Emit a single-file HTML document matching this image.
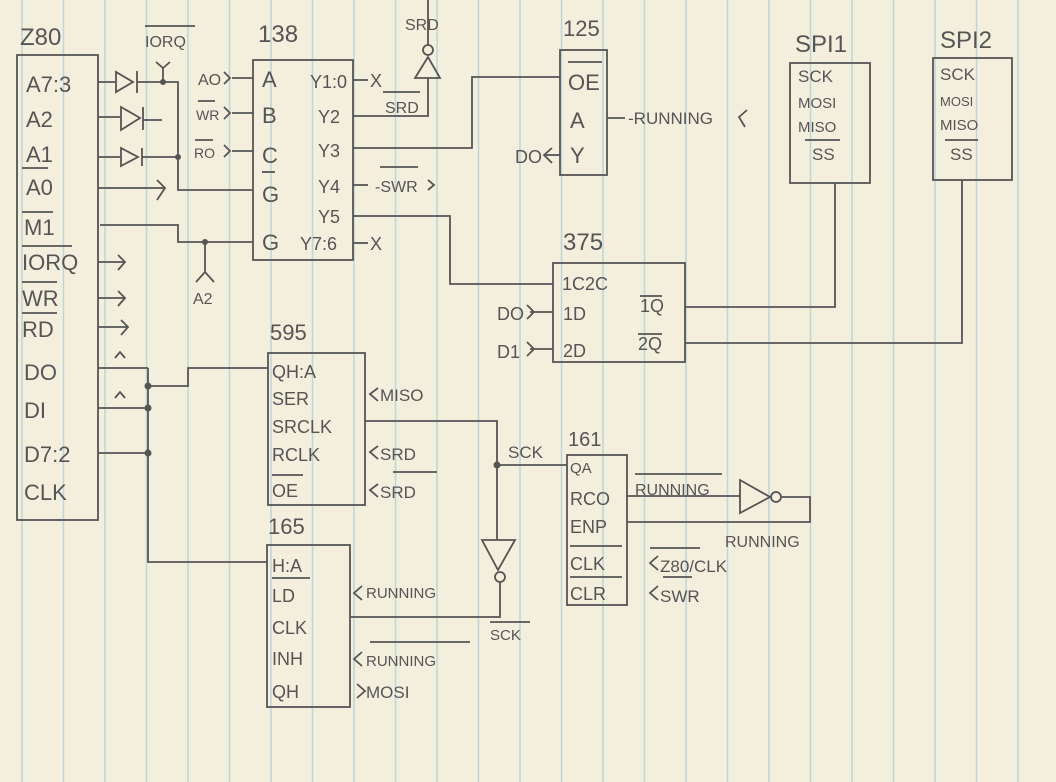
<!DOCTYPE html>
<html><head><meta charset="utf-8"><style>
html,body{margin:0;padding:0;background:#f4eedc}
svg{display:block}
text{font-family:"Liberation Sans",sans-serif;fill:#555}
</style></head><body>
<svg width="1056" height="782" viewBox="0 0 1056 782" xmlns="http://www.w3.org/2000/svg">
<rect width="1056" height="782" fill="#f4eedc"/>
<g stroke="#bcd6da" stroke-width="1.5">
<line x1="22" y1="0" x2="22" y2="782"/><line x1="63.5" y1="0" x2="63.5" y2="782"/><line x1="105" y1="0" x2="105" y2="782"/><line x1="146.5" y1="0" x2="146.5" y2="782"/><line x1="188" y1="0" x2="188" y2="782"/><line x1="229.5" y1="0" x2="229.5" y2="782"/><line x1="271" y1="0" x2="271" y2="782"/><line x1="312.5" y1="0" x2="312.5" y2="782"/><line x1="354" y1="0" x2="354" y2="782"/><line x1="395.5" y1="0" x2="395.5" y2="782"/><line x1="437" y1="0" x2="437" y2="782"/><line x1="478.5" y1="0" x2="478.5" y2="782"/><line x1="520" y1="0" x2="520" y2="782"/><line x1="561.5" y1="0" x2="561.5" y2="782"/><line x1="603" y1="0" x2="603" y2="782"/><line x1="644.5" y1="0" x2="644.5" y2="782"/><line x1="686" y1="0" x2="686" y2="782"/><line x1="727.5" y1="0" x2="727.5" y2="782"/><line x1="769" y1="0" x2="769" y2="782"/><line x1="810.5" y1="0" x2="810.5" y2="782"/><line x1="852" y1="0" x2="852" y2="782"/><line x1="893.5" y1="0" x2="893.5" y2="782"/><line x1="935" y1="0" x2="935" y2="782"/><line x1="976.5" y1="0" x2="976.5" y2="782"/><line x1="1018" y1="0" x2="1018" y2="782"/>
</g>
<g fill="none" stroke="#555" stroke-width="1.8">
<rect x="17" y="55" width="81" height="465"/>
<rect x="253" y="60" width="100" height="200"/>
<rect x="560" y="50" width="47" height="125"/>
<rect x="790" y="63" width="80" height="120"/>
<rect x="933" y="58" width="79" height="122"/>
<rect x="553" y="263" width="132" height="99"/>
<rect x="268" y="353" width="97" height="152"/>
<rect x="267" y="545" width="83" height="162"/>
<rect x="567" y="455" width="60" height="150"/>
<polyline points="98,82 115,82"/><polygon points="116,72 116,92 133,82"/><line x1="137" y1="71" x2="137" y2="93"/><polyline points="137,82 178,82 178,190 253,190"/>
<polyline points="98,117 120,117"/><polygon points="121,107 121,130 140,118"/><line x1="143" y1="107" x2="143" y2="130"/><polyline points="143,120 162,120 M157,113 162,120 157,127"/>
<polyline points="98,157 120,157"/><polygon points="121,148 121,166 138,157"/><line x1="142" y1="148" x2="142" y2="166"/><line x1="142" y1="157" x2="178" y2="157"/>
<polyline points="163,68 163,82"/><polyline points="156,62 163,68 170,62"/>
<polyline points="98,188 165,188"/><polyline points="157,180 165,188 157,200"/>
<polyline points="100,225 178,225 178,242 253,242"/>
<polyline points="205,242 205,272"/><polyline points="196,282 205,272 214,282"/>
<line x1="98" y1="262" x2="125" y2="262"/><polyline points="118,255 125,262 118,270"/>
<line x1="98" y1="298" x2="125" y2="298"/><polyline points="118,291 125,298 118,306"/>
<line x1="98" y1="327" x2="128" y2="327"/><polyline points="121,320 128,327 121,335"/>
<line x1="98" y1="368" x2="148" y2="368"/><polyline points="115,358 120,352 125,358 M120,352 120,368"/>
<line x1="98" y1="408" x2="148" y2="408"/><polyline points="115,398 120,392 125,398 M120,392 120,408"/>
<line x1="98" y1="453" x2="148" y2="453"/>
<polyline points="148,368 148,562 267,562"/>
<polyline points="148,386 188,386 188,368 268,368"/>
<line x1="232" y1="78" x2="253" y2="78"/><path d="M224,72 l6,6 -6,6"/>
<line x1="232" y1="113" x2="253" y2="113"/><path d="M224,107 l6,6 -6,6"/>
<line x1="232" y1="151" x2="253" y2="151"/><path d="M224,145 l6,6 -6,6"/>
<line x1="353" y1="80" x2="368" y2="80"/><line x1="353" y1="243" x2="368" y2="243"/>
<polyline points="353,116 428,116 428,78"/>
<polygon points="415,78 440,78 428,57"/><circle cx="428" cy="50" r="5"/><line x1="428" y1="45" x2="428" y2="0"/>
<line x1="383" y1="92" x2="420" y2="92"/>
<polyline points="353,148 472,148 472,77 560,77"/>
<line x1="353" y1="185" x2="368" y2="185"/><path d="M428,180 l6,5 -6,5"/>
<line x1="380" y1="167" x2="418" y2="167"/>
<polyline points="353,216 450,216 450,284 553,284"/>
<line x1="568" y1="62" x2="602" y2="62"/>
<line x1="607" y1="118" x2="625" y2="118"/><path d="M747,110 l-8,7 6,10"/>
<line x1="544" y1="155" x2="560" y2="155"/><path d="M552,148 l-8,7 8,8"/>
<line x1="530" y1="312" x2="553" y2="312"/><path d="M527,305 l7,7 -7,7"/>
<line x1="530" y1="349" x2="553" y2="349"/><path d="M527,342 l7,7 -7,7"/>
<polyline points="685,307 835,307 835,183"/>
<polyline points="685,343 962,343 962,180"/>
<path d="M378,388 l-8,6 8,7"/><path d="M378,446 l-8,6 8,7"/><path d="M378,484 l-8,6 8,7"/>
<polyline points="365,421 497,421 497,540"/>
<polygon points="482,540 515,540 498,570"/><circle cx="500" cy="577" r="5"/>
<polyline points="500,582 500,617 350,617"/>
<polyline points="497,465 567,465"/>
<path d="M362,586 l-8,7 8,7"/><path d="M362,652 l-8,7 8,7"/><path d="M357,684 l8,7 -8,7"/>
<line x1="627" y1="496" x2="740" y2="496"/>
<polygon points="740,480 740,513 770,497"/><circle cx="776" cy="497" r="5"/>
<polyline points="781,497 810,497 810,522 627,522"/>
<path d="M658,556 l-8,7 8,7"/><path d="M658,586 l-8,7 8,7"/>
<line x1="22" y1="212" x2="53" y2="212"/><line x1="22" y1="246" x2="72" y2="246"/>
<line x1="22" y1="282" x2="57" y2="282"/><line x1="22" y1="313" x2="57" y2="313"/>
<line x1="22" y1="168" x2="48" y2="168"/>
<line x1="145" y1="26" x2="195" y2="26"/>
<line x1="198" y1="101" x2="215" y2="101"/><line x1="195" y1="140" x2="213" y2="140"/>
<line x1="262" y1="172" x2="275" y2="172"/>
<line x1="640" y1="296" x2="662" y2="296"/><line x1="638" y1="334" x2="662" y2="334"/>
<line x1="805" y1="140" x2="840" y2="140"/><line x1="945" y1="140" x2="978" y2="140"/>
<line x1="272" y1="475" x2="303" y2="475"/><line x1="393" y1="472" x2="437" y2="472"/>
<line x1="272" y1="578" x2="310" y2="578"/><line x1="370" y1="642" x2="470" y2="642"/>
<line x1="490" y1="622" x2="530" y2="622"/>
<line x1="635" y1="474" x2="722" y2="474"/>
<line x1="570" y1="546" x2="622" y2="546"/><line x1="570" y1="577" x2="622" y2="577"/>
<line x1="663" y1="577" x2="692" y2="577"/><line x1="650" y1="548" x2="700" y2="548"/>
</g>
<g fill="#555">
<circle cx="178" cy="157" r="3"/><circle cx="163" cy="82" r="3"/><circle cx="205" cy="242" r="3"/>
<circle cx="148" cy="386" r="3.5"/><circle cx="148" cy="408" r="3.5"/><circle cx="148" cy="453" r="3.5"/>
<circle cx="497" cy="465" r="3.5"/>
</g>
<g font-size="24">
<text x="20" y="45">Z80</text>
<text x="258" y="42">138</text>
<text x="563" y="36" font-size="22">125</text>
<text x="795" y="52">SPI1</text>
<text x="940" y="48">SPI2</text>
<text x="563" y="250">375</text>
<text x="270" y="340" font-size="22">595</text>
<text x="268" y="534" font-size="22">165</text>
<text x="568" y="446" font-size="20">161</text>
</g>
<g font-size="22">
<text x="26" y="92">A7:3</text><text x="26" y="127">A2</text><text x="26" y="162">A1</text><text x="26" y="195">A0</text>
<text x="24" y="235">M1</text><text x="22" y="270">IORQ</text><text x="22" y="306">WR</text><text x="22" y="337">RD</text>
<text x="24" y="380">DO</text><text x="24" y="418">DI</text><text x="24" y="462">D7:2</text><text x="24" y="500">CLK</text>
<text x="262" y="87">A</text><text x="262" y="123">B</text><text x="262" y="163">C</text><text x="262" y="202">G</text><text x="262" y="250">G</text>
<text x="568" y="90">OE</text><text x="570" y="128">A</text><text x="570" y="163">Y</text>
</g>
<g font-size="18">
<text x="310" y="88">Y1:0</text><text x="318" y="123">Y2</text><text x="318" y="157">Y3</text><text x="318" y="193">Y4</text><text x="318" y="223">Y5</text><text x="300" y="250">Y7:6</text>
<text x="370" y="87">X</text><text x="370" y="250">X</text>
<text x="145" y="47" font-size="16">IORQ</text>
<text x="198" y="85" font-size="16">AO</text><text x="196" y="120" font-size="14">WR</text><text x="194" y="158" font-size="14">RO</text>
<text x="193" y="304" font-size="16">A2</text>
<text x="405" y="30" font-size="16">SRD</text>
<text x="385" y="113" font-size="16">SRD</text>
<text x="375" y="192" font-size="16">-SWR</text>
<text x="628" y="124" font-size="17">-RUNNING</text>
<text x="515" y="163" font-size="18">DO</text>
<text x="562" y="290">1C2C</text><text x="563" y="320">1D</text><text x="563" y="357">2D</text>
<text x="640" y="312">1Q</text><text x="638" y="350">2Q</text>
<text x="497" y="320">DO</text><text x="497" y="358">D1</text>
<text x="798" y="82" font-size="17">SCK</text><text x="798" y="108" font-size="15">MOSI</text><text x="798" y="132" font-size="15">MISO</text><text x="812" y="160" font-size="17">SS</text>
<text x="940" y="80" font-size="17">SCK</text><text x="940" y="106" font-size="13">MOSI</text><text x="940" y="130" font-size="15">MISO</text><text x="950" y="160" font-size="17">SS</text>
<text x="272" y="378">QH:A</text><text x="272" y="405">SER</text><text x="272" y="433">SRCLK</text><text x="272" y="461">RCLK</text><text x="272" y="497">OE</text>
<text x="380" y="401" font-size="17">MISO</text><text x="380" y="460" font-size="17">SRD</text><text x="380" y="498" font-size="17">SRD</text>
<text x="508" y="458" font-size="17">SCK</text><text x="490" y="640" font-size="15">SCK</text>
<text x="272" y="572">H:A</text><text x="272" y="602">LD</text><text x="272" y="634">CLK</text><text x="272" y="665">INH</text><text x="272" y="698">QH</text>
<text x="366" y="598" font-size="15">RUNNING</text><text x="366" y="666" font-size="15">RUNNING</text><text x="366" y="698" font-size="17">MOSI</text>
<text x="570" y="473" font-size="15">QA</text><text x="570" y="505">RCO</text><text x="570" y="533">ENP</text><text x="570" y="570">CLK</text><text x="570" y="600">CLR</text>
<text x="635" y="495" font-size="16">RUNNING</text><text x="725" y="547" font-size="16">RUNNING</text>
<text x="660" y="572" font-size="17">Z80/CLK</text><text x="660" y="602" font-size="17">SWR</text>
</g>
</svg>
</body></html>
